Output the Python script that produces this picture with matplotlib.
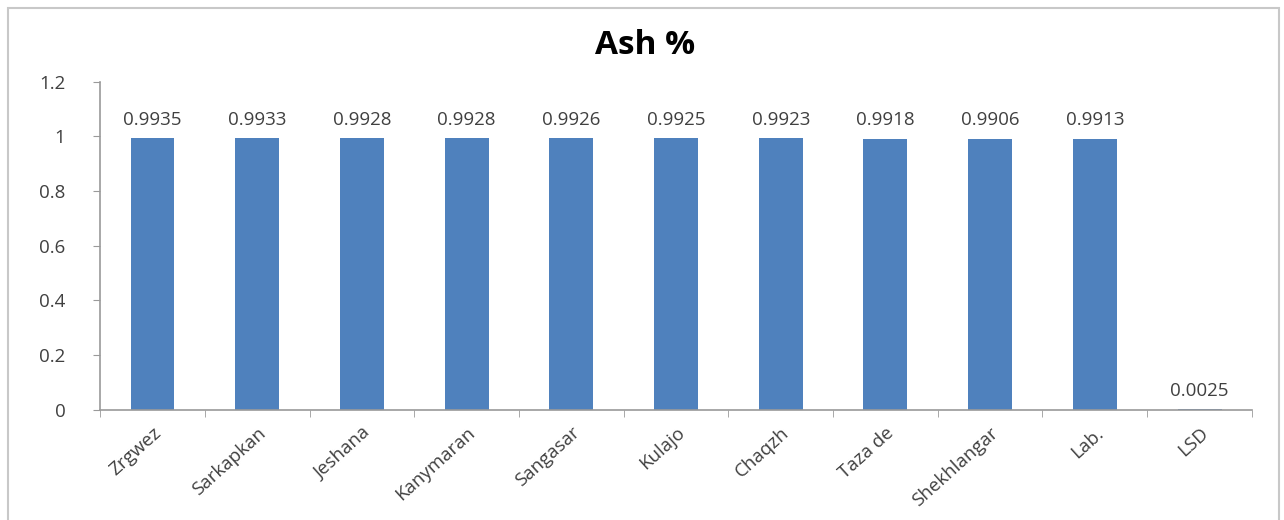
import matplotlib
matplotlib.use("Agg")
import matplotlib.pyplot as plt
from matplotlib.patches import Rectangle
from matplotlib.ticker import FixedLocator, NullFormatter

categories = ["Zrgwez", "Sarkapkan", "Jeshana", "Kanymaran", "Sangasar",
              "Kulajo", "Chaqzh", "Taza de", "Shekhlangar", "Lab.", "LSD"]
values = [0.9935, 0.9933, 0.9928, 0.9928, 0.9926, 0.9925, 0.9923, 0.9918,
          0.9906, 0.9913, 0.0025]
labels = ["0.9935", "0.9933", "0.9928", "0.9928", "0.9926", "0.9925", "0.9923",
          "0.9918", "0.9906", "0.9913", "0.0025"]
yticks = [0, 0.2, 0.4, 0.6, 0.8, 1, 1.2]
ytick_labels = ["0", "0.2", "0.4", "0.6", "0.8", "1", "1.2"]

plt.rcParams["font.family"] = ["Open Sans", "DejaVu Sans"]
TXT = "#404040"

fig = plt.figure(figsize=(12.84, 5.2), dpi=100)
fig.patches.append(Rectangle((0.006, -0.02), 0.990, 1.005, transform=fig.transFigure,
                             fill=False, ec="#c8c8c8", lw=1.5))
ax = fig.add_axes([0.078, 0.212, 0.897, 0.631])

x = list(range(len(categories)))
bars = ax.bar(x, values, width=0.42, color="#4F81BD", zorder=2)
for b, lab in zip(bars, labels):
    ax.text(b.get_x() + b.get_width() / 2, b.get_height() + 0.035, lab,
            ha="center", va="bottom", fontsize=13.5, color=TXT)

ax.set_xlim(-0.5, len(categories) - 0.5)
ax.set_ylim(0, 1.2)
ax.set_yticks(yticks)
ax.set_yticklabels(ytick_labels, fontsize=13.5, color=TXT)
ax.set_xticks(x)
ax.set_xticklabels(categories, rotation=42, ha="right", rotation_mode="anchor",
                   fontsize=13.5, color=TXT)
ax.tick_params(axis="x", length=0, pad=10)
ax.xaxis.set_minor_locator(FixedLocator([i - 0.5 for i in range(len(categories) + 1)]))
ax.xaxis.set_minor_formatter(NullFormatter())
ax.tick_params(axis="x", which="minor", length=5, color="#9a9a9a", direction="out")
ax.tick_params(axis="y", length=5, color="#9a9a9a", direction="out", pad=20)

for s in ("top", "right"):
    ax.spines[s].set_visible(False)
for s in ("left", "bottom"):
    ax.spines[s].set_color("#9a9a9a")
    ax.spines[s].set_linewidth(1.2)

fig.text(0.502, 0.913, "Ash %", ha="center", va="center", fontsize=24,
         fontweight="bold", color="black")

fig.savefig("out.png", dpi=100)
